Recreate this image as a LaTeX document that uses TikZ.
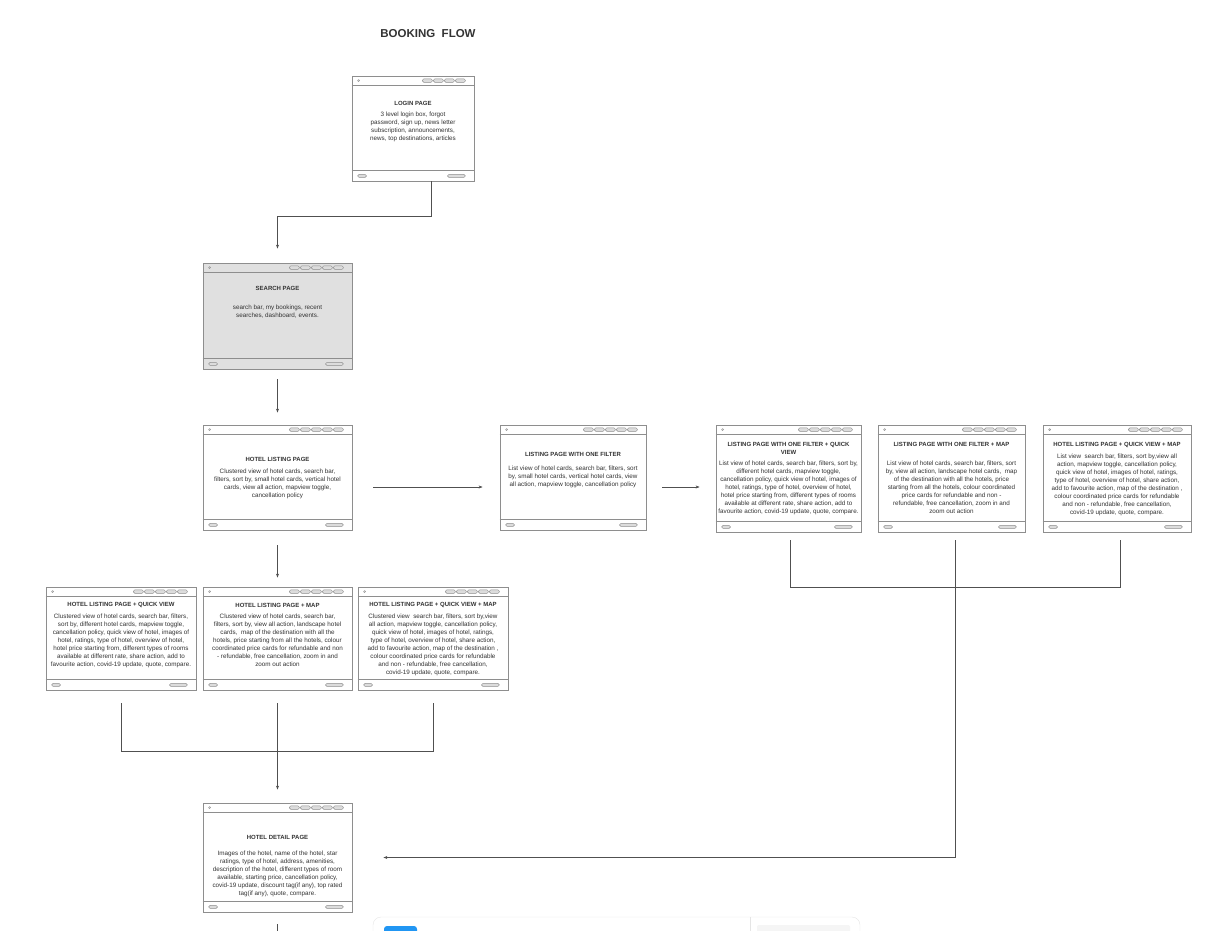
\documentclass[tikz,border=0pt]{standalone}
\usepackage{fontspec}
\setmainfont{Liberation Sans}
\usepackage{xcolor}
\usetikzlibrary{calc, arrows.meta, positioning}

\definecolor{wireline}{HTML}{8E8E8E}
\definecolor{wiretext}{HTML}{333333}
\definecolor{pillfill}{HTML}{DCDCDC}
\definecolor{pagegray}{HTML}{E0E0E0}
\definecolor{flowline}{HTML}{505050}
\definecolor{toolblue}{HTML}{2196F3}

\tikzset{
    page/.style={draw=wireline, line width=0.8pt, fill=white, inner sep=0pt,
        minimum width=149pt, minimum height=105pt},
    pagetitle/.style={font=\fontsize{6}{8}\selectfont\bfseries, text=wiretext,
        inner sep=0pt, align=center},
    pagebody/.style={font=\fontsize{6.3}{8}\selectfont, text=wiretext,
        inner sep=0pt, align=center, anchor=north},
    pillbox/.style={draw=wireline, fill=pillfill, line width=0.4pt, rounded corners=1.5pt},
    flow/.style={draw=flowline, line width=0.6pt},
}

% browser chrome of a wireframe page: #1 = page node, #2 = number of tabs
\newcommand{\pagechrome}[2]{%
    \draw[wireline, line width=1pt] ([yshift=-10pt]#1.north west) -- ([yshift=-10pt]#1.north east);
    \draw[wireline, line width=1pt] ([yshift=11pt]#1.south west) -- ([yshift=11pt]#1.south east);
    \draw[wireline, line width=0.4pt] ([xshift=7pt,yshift=-5pt]#1.north west) circle (1pt);
    \foreach \i in {1,...,#2} {
        \draw[pillbox] ([xshift={-9pt-(\i-1)*11pt},yshift=-5pt]#1.north east)
            +(-10pt,-1.8pt) rectangle +(0pt,1.8pt);
    }
    \draw[pillbox] ([xshift=6pt,yshift=5.5pt]#1.south west) +(0pt,-1.5pt) rectangle +(9pt,1.5pt);
    \draw[pillbox] ([xshift=-9pt,yshift=5.5pt]#1.south east) +(-18pt,-1.5pt) rectangle +(0pt,1.5pt);
}

\begin{document}
\begin{tikzpicture}[x=1pt, y=-1pt, >={Stealth[length=4pt, width=3pt]}]
    \useasboundingbox (0,0) rectangle (1227,930);

    % Titel
    \node[font=\fontsize{11.5}{13}\selectfont\bfseries, text=wiretext] (heading) at (428,34) {BOOKING\ \ FLOW};

    % Seiten
    \node[page, minimum width=122pt] (login) at (413,128.5) {};
    \node[page, fill=pagegray, minimum height=106pt] (search) at (277.5,316) {};
    \node[page] (hlp) at (277.5,477.5) {};
    \node[page, minimum width=146pt] (lp1f) at (573,477.5) {};
    \node[page, minimum width=145pt, minimum height=107pt] (qv) at (788.5,478.5) {};
    \node[page, minimum width=147pt, minimum height=107pt] (map) at (951.5,478.5) {};
    \node[page, minimum width=148pt, minimum height=107pt] (qvmap) at (1117,478.5) {};
    \node[page, minimum width=150pt, minimum height=103pt] (hlpqv) at (121,638.5) {};
    \node[page, minimum height=103pt] (hlpmap) at (277.5,638.5) {};
    \node[page, minimum width=150pt, minimum height=103pt] (hlpqvmap) at (433,638.5) {};
    \node[page, minimum height=109pt] (detail) at (277.5,857.5) {};

    \pagechrome{login}{4}
    \foreach \p in {search,hlp,lp1f,qv,map,qvmap,hlpqv,hlpmap,hlpqvmap,detail} {
        \pagechrome{\p}{5}
    }

    % Texte
    \node[pagetitle] (login-title) at (413,103) {LOGIN PAGE};
    \node[pagebody] (login-text) at (413,111.5) {3 level login box, forgot\\password, sign up, news letter\\subscription, announcements,\\news, top destinations, articles};

    \node[pagetitle] (search-title) at (277.5,288) {SEARCH PAGE};
    \node[pagebody] (search-text) at (277.5,304.5) {search bar, my bookings, recent\\searches, dashboard, events.};

    \node[pagetitle] (hlp-title) at (277.5,459) {HOTEL LISTING PAGE};
    \node[pagebody] (hlp-text) at (277.5,468.5) {Clustered view of hotel cards, search bar,\\filters, sort by, small hotel cards, vertical hotel\\cards, view all action, mapview toggle,\\cancellation policy};

    \node[pagetitle] (lp1f-title) at (573,454) {LISTING PAGE WITH ONE FILTER};
    \node[pagebody] (lp1f-text) at (573,465.5) {List view of hotel cards, search bar, filters, sort\\by, small hotel cards, vertical hotel cards, view\\all action, mapview toggle, cancellation policy};

    \node[pagetitle, anchor=north] (qv-title) at (788.5,442) {LISTING PAGE WITH ONE FILTER + QUICK\\VIEW};
    \node[pagebody] (qv-text) at (788.5,460.5) {List view of hotel cards, search bar, filters, sort by,\\different hotel cards, mapview toggle,\\cancellation policy, quick view of hotel, images of\\hotel, ratings, type of hotel, overview of hotel,\\hotel price starting from, different types of rooms\\available at different rate, share action, add to\\favourite action, covid-19 update, quote, compare.};

    \node[pagetitle] (map-title) at (951.5,444) {LISTING PAGE WITH ONE FILTER + MAP};
    \node[pagebody] (map-text) at (951.5,460.5) {List view of hotel cards, search bar, filters, sort\\by, view all action, landscape hotel cards,\ \ map\\of the destination with all the hotels, price\\starting from all the hotels, colour coordinated\\price cards for refundable and non -\\refundable, free cancellation, zoom in and\\zoom out action};

    \node[pagetitle] (qvmap-title) at (1117,445) {HOTEL LISTING PAGE + QUICK VIEW + MAP};
    \node[pagebody] (qvmap-text) at (1117,453.5) {List view\ \ search bar, filters, sort by,view all\\action, mapview toggle, cancellation policy,\\quick view of hotel, images of hotel, ratings,\\type of hotel, overview of hotel, share action,\\add to favourite action, map of the destination ,\\colour coordinated price cards for refundable\\and non - refundable, free cancellation,\\covid-19 update, quote, compare.};

    \node[pagetitle] (hlpqv-title) at (121,605) {HOTEL LISTING PAGE + QUICK VIEW};
    \node[pagebody] (hlpqv-text) at (121,613.5) {Clustered view of hotel cards, search bar, filters,\\sort by, different hotel cards, mapview toggle,\\cancellation policy, quick view of hotel, images of\\hotel, ratings, type of hotel, overview of hotel,\\hotel price starting from, different types of rooms\\available at different rate, share action, add to\\favourite action, covid-19 update, quote, compare.};

    \node[pagetitle] (hlpmap-title) at (277.5,605) {HOTEL LISTING PAGE + MAP};
    \node[pagebody] (hlpmap-text) at (277.5,613.5) {Clustered view of hotel cards, search bar,\\filters, sort by, view all action, landscape hotel\\cards,\ \ map of the destination with all the\\hotels, price starting from all the hotels, colour\\coordinated price cards for refundable and non\\- refundable, free cancellation, zoom in and\\zoom out action};

    \node[pagetitle] (hlpqvmap-title) at (433,605) {HOTEL LISTING PAGE + QUICK VIEW + MAP};
    \node[pagebody] (hlpqvmap-text) at (433,613.5) {Clustered view\ \ search bar, filters, sort by,view\\all action, mapview toggle, cancellation policy,\\quick view of hotel, images of hotel, ratings,\\type of hotel, overview of hotel, share action,\\add to favourite action, map of the destination ,\\colour coordinated price cards for refundable\\and non - refundable, free cancellation,\\covid-19 update, quote, compare.};

    \node[pagetitle] (detail-title) at (277.5,837) {HOTEL DETAIL PAGE};
    \node[pagebody] (detail-text) at (277.5,850.5) {Images of the hotel, name of the hotel, star\\ratings, type of hotel, address, amenities,\\description of the hotel, different types of room\\available, starting price, cancellation policy,\\covid-19 update, discount tag(if any), top rated\\tag(if any), quote, compare.};

    % Verbindungen
    \draw[flow,->] ([xshift=18pt]login.south) -- ++(0,35) -| ([yshift=14pt]search.north);
    \draw[flow,->] ([yshift=-10pt]search.south) -- ([yshift=12pt]hlp.north);
    \draw[flow,->] ([shift={(21pt,-9.5pt)}]hlp.east) -- ([shift={(-17pt,-9.5pt)}]lp1f.west);
    \draw[flow,->] ([shift={(16pt,-9.5pt)}]lp1f.east) -- ([shift={(-16pt,-8.5pt)}]qv.west);

    \coordinate (rjoin) at ([shift={(3.5pt,-55pt)}]map.south);
    \draw[flow] ([shift={(1.5pt,-8pt)}]qv.south) |- (rjoin);
    \draw[flow] ([shift={(3pt,-8pt)}]qvmap.south) |- (rjoin);
    \draw[flow,->] ([shift={(3.5pt,-8pt)}]map.south) |- ([xshift=31pt]detail.east);

    \draw[flow,->] ([yshift=-15pt]hlp.south) -- ([yshift=9pt]hlpmap.north);
    \coordinate (ljoin) at ([yshift=-61pt]hlpmap.south);
    \draw[flow] ([yshift=-13pt]hlpqv.south) |- (ljoin);
    \draw[flow] ([yshift=-13pt]hlpqvmap.south) |- (ljoin);
    \draw[flow,->] ([yshift=-13pt]hlpmap.south) -- ([yshift=13pt]detail.north);

    \coordinate (next) at ([yshift=-30pt]detail.south);
    \draw[flow] ([yshift=-12pt]detail.south) -- (next);

    % Werkzeugleiste unten
    \draw[gray!20, fill=white, rounded corners=8pt] (373,917) rectangle (860,960);
    \draw[gray!20] (750,917) -- (750,940);
    \fill[toolblue, rounded corners=3pt] (384,926) rectangle (417,940);
    \fill[gray!8, rounded corners=2pt] (757,925) rectangle (850,940);
\end{tikzpicture}
\end{document}
